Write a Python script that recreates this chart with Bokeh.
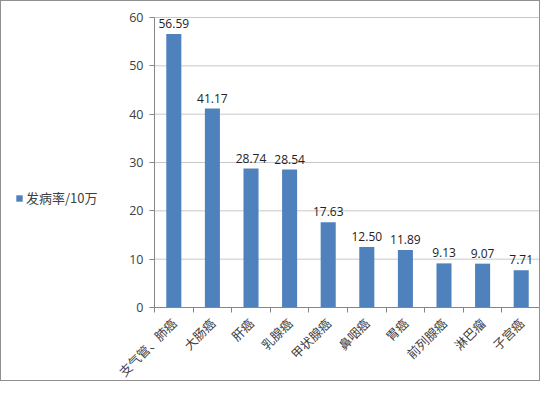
from bokeh.plotting import figure
from bokeh.models import Range1d, FixedTicker, Legend, LegendItem, ColumnDataSource
from bokeh.embed import file_html
from bokeh.resources import INLINE
from bokeh.core.properties import value
import math

categories = ["支气管、肺癌", "大肠癌", "肝癌", "乳腺癌", "甲状腺癌", "鼻咽癌", "胃癌", "前列腺癌", "淋巴瘤", "子宫癌"]
rates = [56.59, 41.17, 28.74, 28.54, 17.63, 12.50, 11.89, 9.13, 9.07, 7.71]
series_name = "发病率/10万"
y_ticks = [0, 10, 20, 30, 40, 50, 60]

n = len(categories)
xs = [i + 0.5 for i in range(n)]
src = ColumnDataSource(dict(x=xs, y=rates, lab=["%.2f" % v for v in rates]))
grid_src = ColumnDataSource(dict(x0=[0] * len(y_ticks), x1=[n] * len(y_ticks), y=y_ticks))

p = figure(width=540, height=381, output_backend="svg", toolbar_location=None,
           x_range=Range1d(-3.964, n), y_range=Range1d(-15.517, 63.31),
           min_border_left=0, min_border_right=1, min_border_top=0, min_border_bottom=0)
p.outline_line_color = None
p.background_fill_color = "white"
p.border_fill_color = "white"

p.xgrid.visible = False
p.ygrid.visible = False
p.segment(x0="x0", x1="x1", y0="y", y1="y", source=grid_src, line_color="#c8c8c8", line_width=1)

bars = p.vbar(x="x", top="y", width=0.39, source=src, fill_color="#4F81BD", line_color=None)
p.text(x="x", y="y", text="lab", source=src, text_align="center", text_baseline="bottom",
       y_offset=-6, text_font=value("Open Sans"), text_font_size="12px", text_color="#222222")

# y axis
ya = p.yaxis[0]
ya.fixed_location = 0
ya.bounds = (0, 60)
ya.ticker = FixedTicker(ticks=y_ticks)
ya.axis_line_color = "#868686"
ya.major_tick_line_color = "#868686"
ya.major_tick_in = 0
ya.major_tick_out = 5
ya.minor_tick_line_color = None
ya.major_label_text_font = "Open Sans"
ya.major_label_text_font_size = "12.5px"
ya.major_label_text_color = "#404040"
ya.major_label_standoff = 6

# x axis
xa = p.xaxis[0]
xa.fixed_location = 0
xa.bounds = (0, n)
xa.ticker = FixedTicker(ticks=xs, minor_ticks=list(range(n + 1)))
xa.major_label_overrides = {x: c for x, c in zip(xs, categories)}
xa.major_label_orientation = math.pi / 4
xa.axis_line_color = "#868686"
xa.major_tick_line_color = None
xa.minor_tick_line_color = "#868686"
xa.minor_tick_in = 0
xa.minor_tick_out = 5
xa.major_label_text_font = "Noto Sans CJK SC"
xa.major_label_text_font_size = "12.5px"
xa.major_label_text_color = "#404040"
xa.major_label_standoff = 7

legend = Legend(items=[LegendItem(label=series_name, renderers=[bars])],
                location=(14, 175), orientation="vertical")
legend.border_line_color = None
legend.background_fill_alpha = 0
legend.padding = 0
legend.margin = 0
legend.glyph_width = 8
legend.glyph_height = 8
legend.label_standoff = 3
legend.label_text_font = "Noto Sans CJK SC"
legend.label_text_font_size = "13px"
legend.label_text_color = "#404040"
p.add_layout(legend, "center")

p.styles = {"border": "1px solid #909090", "box-sizing": "border-box"}

open("out.html", "w").write(file_html(p, INLINE))
